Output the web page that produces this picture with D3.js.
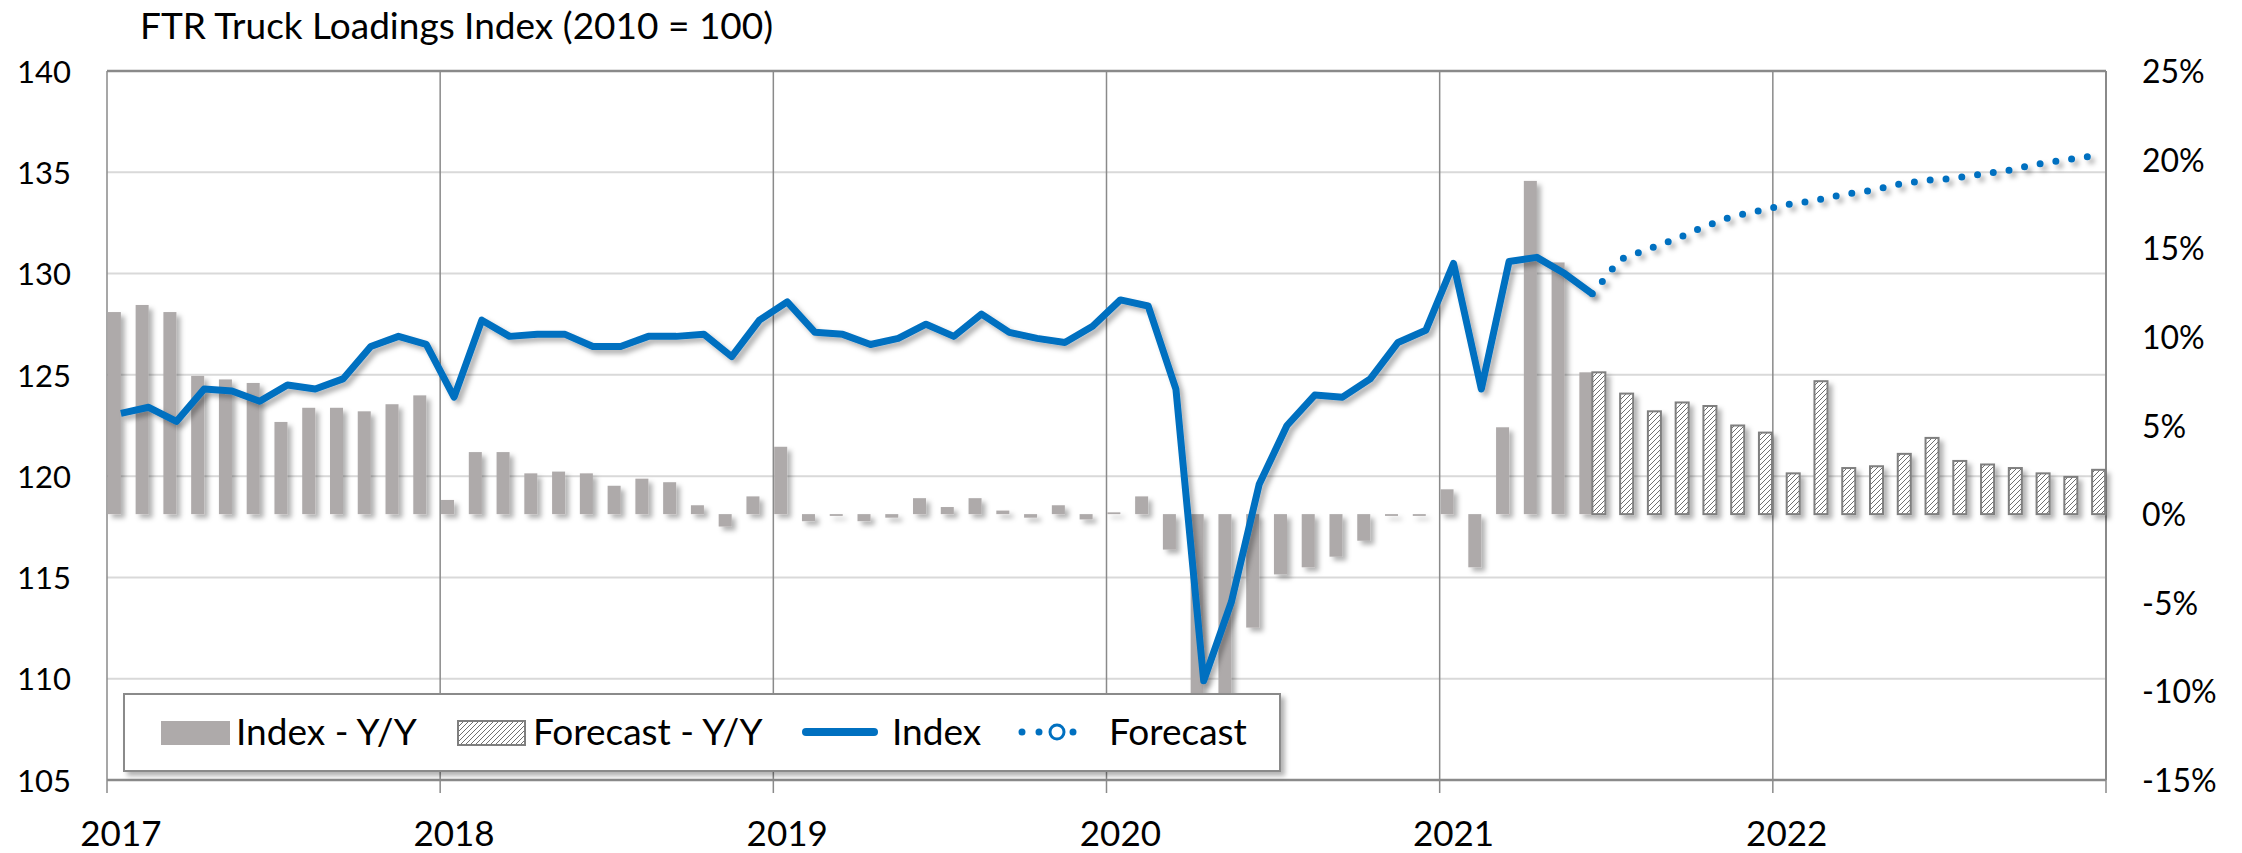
<!DOCTYPE html>
<html>
<head>
<meta charset="utf-8">
<script src="https://cdn.jsdelivr.net/npm/d3@7"></script>
<style>
  body { margin: 0; background: #fff; }
  text { font-family: Lato, "Open Sans", sans-serif; fill: #000; }
</style>
</head>
<body>
<div id="chart-area"></div>
<script>
// SVG size
var width = 2242,
	height = 853;
var margin = {left: 107, right: 136, top: 71, bottom: 73};

// categories: one per month, Jan 2017 .. Dec 2022
var years = [2017, 2018, 2019, 2020, 2021, 2022];
var monthNames = ["Jan","Feb","Mar","Apr","May","Jun","Jul","Aug","Sep","Oct","Nov","Dec"];
var months = [];
years.forEach(function(y){
	monthNames.forEach(function(m){ months.push(m + " " + y); });
});

// Index (left axis), Jan 2017 .. Jun 2021
var indexValues = [
	123.1, 123.4, 122.7, 124.3, 124.2, 123.7, 124.5, 124.3, 124.8, 126.4, 126.9, 126.5,
	123.9, 127.7, 126.9, 127.0, 127.0, 126.4, 126.4, 126.9, 126.9, 127.0, 125.9, 127.7,
	128.6, 127.1, 127.0, 126.5, 126.8, 127.5, 126.9, 128.0, 127.1, 126.8, 126.6, 127.4,
	128.7, 128.4, 124.3, 109.9, 113.8, 119.6, 122.5, 124.0, 123.9, 124.8, 126.6, 127.2,
	130.5, 124.3, 130.6, 130.8, 130.0, 129.0
];
// Forecast (left axis), Jun 2021 .. Dec 2022
var forecastValues = [
	129.0, 130.7, 131.2, 131.7, 132.3, 132.8, 133.1,
	133.4, 133.6, 133.9, 134.1, 134.4, 134.6, 134.7, 134.9, 135.1, 135.4, 135.6, 135.8
];
// Index - Y/Y (right axis, %), Jan 2017 .. Jun 2021
var indexYoY = [
	11.4, 11.8, 11.4, 7.8, 7.6, 7.4, 5.2, 6.0, 6.0, 5.8, 6.2, 6.7,
	0.8, 3.5, 3.5, 2.3, 2.4, 2.3, 1.6, 2.0, 1.8, 0.5, -0.7, 1.0,
	3.8, -0.4, -0.1, -0.4, -0.2, 0.9, 0.4, 0.9, 0.2, -0.2, 0.5, -0.3,
	0.1, 1.0, -2.0, -12.0, -11.0, -6.4, -3.4, -3.0, -2.4, -1.5, -0.1, -0.1,
	1.4, -3.0, 4.9, 18.8, 14.2, 8.0
];
// Forecast - Y/Y (right axis, %), Jun 2021 .. Dec 2022
var forecastYoY = [
	8.0, 6.8, 5.8, 6.3, 6.1, 5.0, 4.6,
	2.3, 7.5, 2.6, 2.7, 3.4, 4.3, 3.0, 2.8, 2.6, 2.3, 2.1, 2.5
];

var leftTicks = [105, 110, 115, 120, 125, 130, 135, 140];
var rightTicks = [-15, -10, -5, 0, 5, 10, 15, 20, 25];

var indexMonths = months.slice(0, indexValues.length);
var forecastMonths = months.slice(months.length - forecastValues.length);

var svg = d3.select("#chart-area")
		.append("svg")
		.attr("width", width)
		.attr("height", height);

var defs = svg.append("defs");
var shadow = defs.append("filter").attr("id", "shadow")
		.attr("x", "-20%").attr("y", "-20%").attr("width", "150%").attr("height", "150%");
shadow.append("feDropShadow")
		.attr("dx", 4).attr("dy", 4).attr("stdDeviation", 2.5)
		.attr("flood-color", "#000").attr("flood-opacity", 0.3);

var hatch = defs.append("pattern").attr("id", "hatch")
		.attr("patternUnits", "userSpaceOnUse")
		.attr("width", 5).attr("height", 5);
hatch.append("rect").attr("width", 5).attr("height", 5).attr("fill", "#fff");
hatch.append("path")
		.attr("d", "M-1,1 l2,-2 M0,5 l5,-5 M4,6 l2,-2")
		.attr("stroke", "#6f6f6f").attr("stroke-width", 1);

var x = d3.scaleBand()
		.domain(months)
		.range([margin.left, width - margin.right])
		.paddingInner(0).paddingOuter(0);

var xSub = d3.scaleBand()
		.domain(["index", "forecast"])
		.range([0, x.bandwidth()])
		.paddingInner(0).paddingOuter(0.067);

var yLeft = d3.scaleLinear()
		.domain([105, 140])
		.range([height - margin.bottom, margin.top]);

var yRight = d3.scaleLinear()
		.domain([-15, 25])
		.range([height - margin.bottom, margin.top]);

var plotLeft = x.range()[0], plotRight = x.range()[1];
var plotTop = yLeft.range()[1], plotBottom = yLeft.range()[0];

// horizontal gridlines
svg.append("g").selectAll("line")
		.data(leftTicks.slice(1, -1))
		.enter().append("line")
		.attr("x1", plotLeft).attr("x2", plotRight)
		.attr("y1", function(d){ return yLeft(d); })
		.attr("y2", function(d){ return yLeft(d); })
		.attr("stroke", "#d9d9d9").attr("stroke-width", 2);

// year boundaries (gridlines + tick marks below the axis)
var januaries = months.filter(function(m){ return m.indexOf("Jan") === 0; });
var yearEdges = januaries.map(function(m){ return x(m); }).concat([plotRight]);
svg.append("g").selectAll("line")
		.data(yearEdges)
		.enter().append("line")
		.attr("x1", function(d){ return d; }).attr("x2", function(d){ return d; })
		.attr("y1", plotTop).attr("y2", plotBottom + 13)
		.attr("stroke", "#8a8a8a").attr("stroke-width", 1.5);

// plot frame
svg.append("line").attr("x1", plotLeft).attr("x2", plotRight)
		.attr("y1", plotTop).attr("y2", plotTop)
		.attr("stroke", "#8a8a8a").attr("stroke-width", 2.5);
svg.append("line").attr("x1", plotLeft).attr("x2", plotRight)
		.attr("y1", plotBottom).attr("y2", plotBottom)
		.attr("stroke", "#8a8a8a").attr("stroke-width", 2.5);
svg.append("line").attr("x1", plotRight).attr("x2", plotRight)
		.attr("y1", plotTop).attr("y2", plotBottom)
		.attr("stroke", "#8a8a8a").attr("stroke-width", 2);

// Y/Y bars
var bars = svg.append("g").attr("filter", "url(#shadow)");
bars.selectAll("rect.idx")
		.data(indexYoY)
		.enter().append("rect")
		.attr("class", "idx")
		.attr("x", function(d, i){ return x(indexMonths[i]) + xSub("index"); })
		.attr("width", xSub.bandwidth())
		.attr("y", function(d){ return yRight(Math.max(d, 0)); })
		.attr("height", function(d){ return Math.max(1.5, Math.abs(yRight(d) - yRight(0))); })
		.attr("fill", "#aeaaaa");

bars.selectAll("rect.fc")
		.data(forecastYoY)
		.enter().append("rect")
		.attr("class", "fc")
		.attr("x", function(d, i){ return x(forecastMonths[i]) + xSub("forecast"); })
		.attr("width", xSub.bandwidth())
		.attr("y", function(d){ return yRight(Math.max(d, 0)); })
		.attr("height", function(d){ return Math.abs(yRight(d) - yRight(0)); })
		.attr("fill", "url(#hatch)")
		.attr("stroke", "#7f7f7f").attr("stroke-width", 2);

// lines
var center = function(m){ return x(m) + x.bandwidth() / 2; };

var line = d3.line()
		.x(function(d){ return center(d.month); })
		.y(function(d){ return yLeft(d.value); });

svg.append("path")
		.datum(indexValues.map(function(v, i){ return {month: indexMonths[i], value: v}; }))
		.attr("d", line)
		.attr("fill", "none")
		.attr("stroke", "#0070c0").attr("stroke-width", 7)
		.attr("stroke-linejoin", "round")
		.attr("filter", "url(#shadow)");

svg.append("path")
		.datum(forecastValues.map(function(v, i){ return {month: forecastMonths[i], value: v}; }))
		.attr("d", line)
		.attr("fill", "none")
		.attr("stroke", "#0070c0").attr("stroke-width", 7)
		.attr("stroke-linecap", "round")
		.attr("stroke-dasharray", "0 15.9")
		.attr("filter", "url(#shadow)");

// left axis
var yAxisLeft = d3.axisLeft(yLeft).tickValues(leftTicks).tickSize(0).tickPadding(0);
svg.append("g")
		.attr("class", "axis y-axis")
		.attr("transform", "translate(" + 71 + ",0)")
		.call(yAxisLeft)
		.call(function(g){ g.select(".domain").remove(); })
		.selectAll("text")
		.style("font-size", "31px")
		.attr("dy", "0.36em");

// right axis
var yAxisRight = d3.axisRight(yRight).tickValues(rightTicks).tickSize(0).tickPadding(0)
		.tickFormat(function(d){ return d + "%"; });
svg.append("g")
		.attr("class", "axis y-axis-right")
		.attr("transform", "translate(" + 2142 + ",0)")
		.call(yAxisRight)
		.call(function(g){ g.select(".domain").remove(); })
		.selectAll("text")
		.style("font-size", "32px")
		.attr("dy", "0.36em");

// bottom axis: year labels under each January
var xAxis = d3.axisBottom(x).tickValues(januaries).tickSize(0).tickPadding(0)
		.tickFormat(function(m){ return m.split(" ")[1]; });
svg.append("g")
		.attr("class", "axis x-axis")
		.attr("transform", "translate(0," + 846 + ")")
		.call(xAxis)
		.call(function(g){ g.select(".domain").remove(); })
		.selectAll("text")
		.style("font-size", "35px")
		.attr("y", 0).attr("dy", 0);

// title
svg.append("text")
		.attr("x", 140).attr("y", 39)
		.style("font-size", "37px")
		.text("FTR Truck Loadings Index (2010 = 100)");

// legend
var legend = svg.append("g");
legend.append("rect")
		.attr("x", 124).attr("y", 694).attr("width", 1156).attr("height", 77)
		.attr("fill", "#fff").attr("stroke", "#8a8a8a").attr("stroke-width", 2)
		.attr("filter", "url(#shadow)");

legend.append("rect").attr("x", 161).attr("y", 721).attr("width", 69).attr("height", 24)
		.attr("fill", "#aeaaaa");
legend.append("text").attr("x", 236).attr("y", 745).style("font-size", "37px").text("Index - Y/Y");

legend.append("rect").attr("x", 458).attr("y", 721).attr("width", 67).attr("height", 24)
		.attr("fill", "url(#hatch)").attr("stroke", "#7f7f7f").attr("stroke-width", 2);
legend.append("text").attr("x", 533).attr("y", 745).style("font-size", "37px").text("Forecast - Y/Y");

legend.append("line").attr("x1", 806).attr("x2", 874).attr("y1", 732).attr("y2", 732)
		.attr("stroke", "#0070c0").attr("stroke-width", 8).attr("stroke-linecap", "round");
legend.append("text").attr("x", 892).attr("y", 745).style("font-size", "37px").text("Index");

legend.append("line").attr("x1", 1022).attr("x2", 1090).attr("y1", 732).attr("y2", 732)
		.attr("stroke", "#0070c0").attr("stroke-width", 7)
		.attr("stroke-linecap", "round").attr("stroke-dasharray", "0 17");
legend.append("circle").attr("cx", 1057).attr("cy", 732).attr("r", 7)
		.attr("fill", "#fff").attr("stroke", "#0070c0").attr("stroke-width", 3);
legend.append("text").attr("x", 1109).attr("y", 745).style("font-size", "37px").text("Forecast");
</script>
</body>
</html>
